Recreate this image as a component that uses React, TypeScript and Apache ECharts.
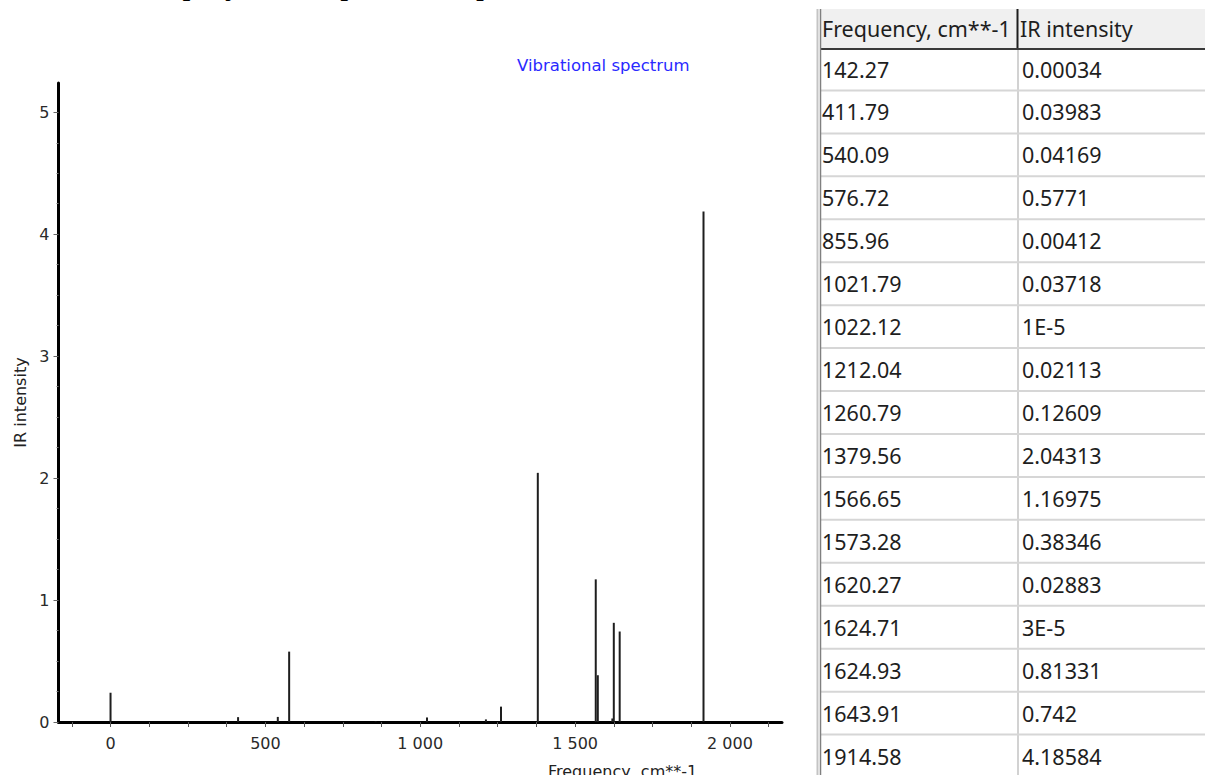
import React, { useEffect, useRef } from 'react';
import * as echarts from 'echarts';

// ---- data ----
const frequencies = [142.27, 411.79, 540.09, 576.72, 855.96, 1021.79, 1022.12, 1212.04, 1260.79, 1379.56, 1566.65, 1573.28, 1620.27, 1624.71, 1624.93, 1643.91, 1914.58];
const intensityText = ['0.00034', '0.03983', '0.04169', '0.5771', '0.00412', '0.03718', '1E-5', '0.02113', '0.12609', '2.04313', '1.16975', '0.38346', '0.02883', '3E-5', '0.81331', '0.742', '4.18584'];
// a peak drawn at 0 cm**-1 in the plot (row not visible in the table)
const zeroPeakFrequency = 0;
const zeroPeakIntensity = 0.24;

const xLabelTicks = [0, 500, 1000, 1500, 2000];
const xAllTicks = [-125, 0, 125, 250, 375, 500, 625, 750, 875, 1000, 1125, 1250, 1375, 1500, 1625, 1750, 1875, 2000, 2125];
const yLabelTicks = [0, 1, 2, 3, 4, 5];
const yMinorTicks = [0.25, 0.5, 0.75, 1.25, 1.5, 1.75, 2.25, 2.5, 2.75, 3.25, 3.5, 3.75, 4.25, 4.5, 4.75];

const chartTitle = 'Vibrational spectrum';
const xAxisName = 'Frequency, cm**-1';
const yAxisName = 'IR intensity';
const tableHeaders = ['Frequency, cm**-1', 'IR intensity'];
const pageHeading = 'Сопоставим результаты расчёта, приведённые ниже';

const CHART_FONT = "'DejaVu Sans', sans-serif";
const TABLE_FONT = "'Noto Sans', 'DejaVu Sans', sans-serif";

function fmtThousands(v: number): string {
  const s = String(Math.round(v));
  return s.replace(/\B(?=(\d{3})+(?!\d))/g, ' ');
}

function buildTable(): any[] {
  const els: any[] = [];
  const left = 821;
  const right = 1205;
  const headerTop = 9;
  const headerBottom = 48;
  const rowH = 42.94;
  const firstCenter = 69;
  const col1 = 822;
  const col2 = 1022;
  const sep = 1017.5;

  els.push({ type: 'rect', shape: { x: left, y: headerTop, width: right - left, height: headerBottom - headerTop }, style: { fill: '#f0f0f0' }, silent: true });
  els.push({ type: 'line', shape: { x1: 1018, y1: headerBottom, x2: 1018, y2: 775 }, style: { stroke: '#d2d2d2', lineWidth: 2 }, silent: true });
  for (let i = 0; i < frequencies.length; i++) {
    const y = firstCenter - rowH / 2 + rowH * (i + 1);
    els.push({ type: 'line', shape: { x1: left, y1: y, x2: right, y2: y }, style: { stroke: '#d6d6d6', lineWidth: 2 }, silent: true });
  }
  els.push({ type: 'line', shape: { x1: left, y1: 49, x2: right, y2: 49 }, style: { stroke: '#3a3a3a', lineWidth: 2 }, silent: true });
  els.push({ type: 'line', shape: { x1: sep, y1: headerTop, x2: sep, y2: headerBottom }, style: { stroke: '#1e1e1e', lineWidth: 2 }, silent: true });
  els.push({ type: 'line', shape: { x1: 817.5, y1: headerTop, x2: 817.5, y2: 775 }, style: { stroke: '#c4c4c4', lineWidth: 2 }, silent: true });
  els.push({ type: 'line', shape: { x1: 820.5, y1: headerTop, x2: 820.5, y2: 775 }, style: { stroke: '#808080', lineWidth: 1.5 }, silent: true });

  els.push({ type: 'text', x: col1, y: 28, style: { text: tableHeaders[0], font: `21.5px ${TABLE_FONT}`, fill: '#1e1e1e', verticalAlign: 'middle', align: 'left', width: 194, overflow: 'truncate', ellipsis: '' }, silent: true });
  els.push({ type: 'text', x: col2 - 2, y: 28, style: { text: tableHeaders[1], font: `21.5px ${TABLE_FONT}`, fill: '#1e1e1e', verticalAlign: 'middle', align: 'left' }, silent: true });

  for (let i = 0; i < frequencies.length; i++) {
    const y = firstCenter + rowH * i;
    els.push({ type: 'text', x: col1, y, style: { text: frequencies[i].toFixed(2), font: `21.5px ${TABLE_FONT}`, fill: '#1e1e1e', verticalAlign: 'middle', align: 'left' }, silent: true });
    els.push({ type: 'text', x: col2, y, style: { text: intensityText[i], font: `21.5px ${TABLE_FONT}`, fill: '#1e1e1e', verticalAlign: 'middle', align: 'left' }, silent: true });
  }
  return els;
}

export default function App() {
  const ref = useRef<HTMLDivElement>(null);

  useEffect(() => {
    if (!ref.current) return;
    const chart = echarts.init(ref.current, undefined, { renderer: 'svg' });

    const barData: number[][] = [[zeroPeakFrequency, zeroPeakIntensity]];
    frequencies.forEach((f, i) => barData.push([f, Number(intensityText[i])]));

    const option: any = {
      animation: false,
      backgroundColor: '#ffffff',
      title: {
        text: chartTitle,
        left: 512,
        top: 52,
        textStyle: { fontFamily: CHART_FONT, fontSize: 16.5, fontWeight: 'normal', color: '#2a2aff' },
      },
      grid: { left: 58.5, right: 423, top: 83, bottom: 53, containLabel: false, outerBoundsMode: 'none' },
      xAxis: {
        type: 'value',
        min: -168,
        max: 2168,
        axisLine: { show: true, onZero: false, lineStyle: { color: '#000', width: 3 } },
        axisTick: { show: true, customValues: xAllTicks, length: 5, lineStyle: { color: '#555', width: 1 } },
        axisLabel: {
          customValues: xLabelTicks,
          formatter: (v: number) => fmtThousands(v),
          fontFamily: CHART_FONT,
          fontSize: 16,
          color: '#2a2a2a',
          margin: 13,
        },
        splitLine: { show: false },
      },
      yAxis: [
        {
          type: 'value',
          position: 'left',
          min: 0,
          max: 5.24,
          axisLine: { show: true, onZero: false, lineStyle: { color: '#000', width: 3 } },
          axisTick: { show: true, customValues: yLabelTicks, length: 5, lineStyle: { color: '#666', width: 1 } },
          axisLabel: { customValues: yLabelTicks, fontFamily: CHART_FONT, fontSize: 16, color: '#2a2a2a', margin: 9 },
          splitLine: { show: false },
          name: yAxisName,
          nameLocation: 'middle',
          nameGap: 30,
          nameTextStyle: { fontFamily: CHART_FONT, fontSize: 16, color: '#222' },
        },
        {
          type: 'value',
          position: 'left',
          min: 0,
          max: 5.24,
          axisLine: { show: false, onZero: false },
          axisTick: { show: true, customValues: yMinorTicks, length: 2, lineStyle: { color: '#777', width: 1 } },
          axisLabel: { show: false },
          splitLine: { show: false },
        },
      ],
      series: [
        {
          type: 'bar',
          xAxisIndex: 0,
          yAxisIndex: 0,
          data: barData,
          barWidth: 2,
          itemStyle: { color: '#1e1e1e' },
          silent: true,
        },
      ],
      graphic: [
        {
          type: 'text',
          x: 548,
          y: 771,
          style: { text: xAxisName, font: `16px ${CHART_FONT}`, fill: '#222', verticalAlign: 'middle', align: 'left' },
          silent: true,
        },
        {
          type: 'text',
          x: 8,
          y: -17,
          style: { text: pageHeading, font: `32px 'Liberation Serif', serif`, fill: '#000', verticalAlign: 'middle', align: 'left' },
          silent: true,
        },
        ...buildTable(),
      ],
    };

    chart.setOption(option);
    return () => {
      chart.dispose();
    };
  }, []);

  return (
    <div
      ref={ref}
      style={{ position: 'absolute', left: 0, top: 0, width: 1205, height: 775, background: '#fff' }}
    />
  );
}
